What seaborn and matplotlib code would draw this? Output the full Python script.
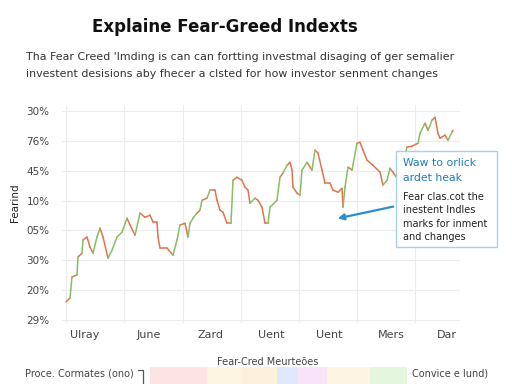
import matplotlib
matplotlib.use("Agg")
import matplotlib.pyplot as plt
from matplotlib.patches import Rectangle
import pandas as pd
import seaborn as sns

# index trace (day, value on the 0..7 tick scale)
days = [0, 4, 6, 11, 12, 16, 17, 21, 24, 27, 31, 34, 37, 42, 46, 51, 56, 61, 64, 69,
        74, 79, 84, 87, 91, 92, 94, 101, 107, 111, 114, 119, 122, 124, 127, 131, 134, 136, 141, 144,
        149, 151, 154, 157, 161, 165, 167, 171, 176, 179, 182, 184, 189, 192, 196, 199, 202, 204, 211, 214,
        217, 221, 224, 226, 227, 231, 234, 236, 241, 246, 249, 252, 256, 259, 264, 267, 272, 276, 277, 279,
        282, 286, 291, 294, 297, 301, 307, 314, 317, 321, 324, 327, 331, 336, 341, 346, 352, 354, 359, 362,
        366, 369, 372, 374, 379, 382, 386, 387]
values = [0.61, 0.74, 1.44, 1.51, 2.11, 2.24, 2.68, 2.78, 2.44, 2.24, 2.78, 3.08, 2.78, 2.07, 2.34, 2.78, 2.94, 3.41, 3.18, 2.84,
          3.58, 3.44, 3.51, 3.28, 3.28, 2.78, 2.41, 2.41, 2.17, 2.68, 3.18, 3.24, 2.78, 3.24, 3.41, 3.58, 3.68, 4.01, 4.08, 4.35,
          4.35, 4.01, 3.68, 3.61, 3.24, 3.24, 4.68, 4.78, 4.68, 4.45, 4.35, 3.91, 4.08, 4.01, 3.78, 3.24, 3.24, 3.78, 4.01, 4.78,
          4.92, 5.18, 5.28, 5.02, 4.45, 4.25, 4.18, 5.02, 5.28, 5.02, 5.69, 5.59, 5.02, 4.58, 4.58, 4.35, 4.28, 4.41, 3.78, 4.45,
          5.12, 5.02, 5.92, 5.95, 5.69, 5.35, 5.18, 4.95, 4.52, 4.68, 5.08, 4.95, 4.75, 5.02, 5.79, 5.82, 5.92, 6.25, 6.59, 6.35,
          6.69, 6.79, 6.25, 6.09, 6.19, 6.02, 6.29, 6.35]

ytick_labels = ["29%", "20%", "30%", "05%", "10%", "45%", "76%", "30%"]
xtick_days = [19, 83, 145, 205, 263, 325, 381]
xtick_labels = ["Ulray", "June", "Zard", "Uent", "Uent", "Mers", "Dar"]
grid_days = [0, 58, 117, 175, 233, 291, 349]

strip_widths = [57, 35, 35, 21, 29, 43, 37]
strip_colors = ["#fde3e3", "#fdf4e2", "#fdf1dc", "#dfe9fb", "#f8e3f8", "#fdf4e4", "#e5f6de"]

# one short segment per step, coloured by direction (big rises green, the rest orange)
rows = []
for i in range(len(days) - 1):
    d = "up" if values[i + 1] - values[i] > 0.15 else "down"
    rows.append({"seg": i, "day": days[i], "value": values[i], "dir": d})
    rows.append({"seg": i, "day": days[i + 1], "value": values[i + 1], "dir": d})
df = pd.DataFrame(rows)

sns.set_theme(style="white")
plt.rcParams["font.family"] = ["DejaVu Sans"]

fig = plt.figure(figsize=(5.12, 3.84), dpi=100)
ax = fig.add_axes([62 / 512, 1 - 323 / 384, 398 / 512, 218 / 384])

sns.lineplot(data=df, x="day", y="value", hue="dir", units="seg", estimator=None,
             palette={"up": "#86bf63", "down": "#e27350"}, linewidth=1.1,
             legend=False, ax=ax, sort=False)

ax.set_xlim(-4, 394)
ax.set_ylim(-0.1, 7.2)
ax.set_yticks(range(8))
ax.set_yticklabels(ytick_labels, fontsize=7.5, color="#444444")
ax.set_xticks(xtick_days)
ax.set_xticklabels(xtick_labels, fontsize=8, color="#444444")
ax.set_xticks(grid_days, minor=True)
ax.tick_params(axis="both", which="both", length=0)
ax.tick_params(axis="y", pad=9)
ax.tick_params(axis="x", pad=5)
ax.grid(True, axis="y", color="#ececec", linewidth=0.8)
ax.grid(True, axis="x", which="minor", color="#ececec", linewidth=0.8)
ax.set_xlabel("")
ax.set_ylabel("")
for s in ax.spines.values():
    s.set_visible(False)

fig.text(15 / 512, 1 - 203 / 384, "Fearind", rotation=90, ha="center", va="center",
         fontsize=7.5, color="#222222")

fig.text(225 / 512, 1 - 27 / 384, "Explaine Fear-Greed Indexts", ha="center", va="center",
         fontsize=12, fontweight="bold", color="#111111")
fig.text(26 / 512, 1 - 57 / 384, "Tha Fear Creed 'Imding is can can fortting investmal disaging of ger semalier",
         ha="left", va="center", fontsize=7.9, color="#333333")
fig.text(26 / 512, 1 - 74 / 384, "investent desisions aby fhecer a clsted for how investor senment changes",
         ha="left", va="center", fontsize=7.9, color="#333333")

# callout box
fig.add_artist(Rectangle((396 / 512, 1 - 247 / 384), 101 / 512, 96 / 384, transform=fig.transFigure,
                         facecolor="white", edgecolor="#a9d0e8", linewidth=1.0, zorder=5))
fig.text(403 / 512, 1 - 163 / 384, "Waw to orlick", fontsize=7.8, color="#1c7cbf", va="center", zorder=6)
fig.text(403 / 512, 1 - 178 / 384, "ardet heak", fontsize=7.8, color="#1c7cbf", va="center", zorder=6)
for k, line in enumerate(["Fear clas.cot the", "inestent Indles", "marks for inment", "and changes"]):
    fig.text(403 / 512, 1 - (197 + 13.3 * k) / 384, line, fontsize=7, color="#222222", va="center", zorder=6)
ax.annotate("", xy=(335, 384 - 219), xycoords="figure pixels", xytext=(396, 384 - 206),
            textcoords="figure pixels",
            arrowprops=dict(arrowstyle="-|>", color="#2b8ed4", lw=1.6, mutation_scale=9), zorder=6)

# bottom strip
fig.text(268 / 512, 1 - 362 / 384, "Fear-Cred Meurteões", ha="center", va="center", fontsize=7, color="#444444")
fig.text(25 / 512, 1 - 373 / 384, "Proce. Cormates (ono)", ha="left", va="center", fontsize=7, color="#444444")
fig.text(412 / 512, 1 - 373 / 384, "Convice e lund)", ha="left", va="center", fontsize=7, color="#444444")
sax = fig.add_axes([150 / 512, 0, 257 / 512, 17 / 384])
left = 0
for w, c in zip(strip_widths, strip_colors):
    sax.barh(0, w, left=left, height=1, color=c, edgecolor="none")
    left += w
sax.set_xlim(0, left)
sax.set_ylim(-0.5, 0.5)
sax.axis("off")
fig.add_artist(plt.Line2D([138 / 512, 143 / 512, 143 / 512], [1 - 370 / 384, 1 - 370 / 384, 0],
                          transform=fig.transFigure, color="#555555", lw=0.9))

fig.savefig("out.png", dpi=100)
